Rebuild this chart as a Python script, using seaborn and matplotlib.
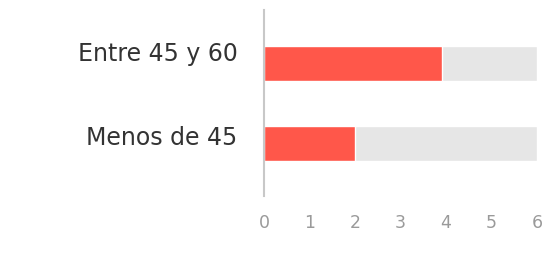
import matplotlib
matplotlib.use("Agg")
import matplotlib.pyplot as plt
import matplotlib.transforms as mtransforms
import seaborn as sns
import pandas as pd

categories = ["Entre 45 y 60", "Menos de 45"]
values = [3.92, 2.0]
max_values = [6, 6]
x_ticks = [0, 1, 2, 3, 4, 5, 6]

sns.set_theme(style="white")
plt.rcParams['font.family'] = ['DejaVu Sans']

df = pd.DataFrame({"cat": categories, "val": values, "max": max_values})

fig = plt.figure(figsize=(5.55, 2.64), dpi=100)
ax = fig.add_axes([264/555, 1-196/264, (537-264)/555, 186/264])

sns.barplot(data=df, y="cat", x="max", color="#E6E6E6", width=0.44, ax=ax, saturation=1)
sns.barplot(data=df, y="cat", x="val", color="#FF574A", width=0.44, ax=ax, saturation=1)

ax.set_xlim(0, 6)
ax.set_ylim(1.66, -0.67)
ax.set_xticks(x_ticks)
ax.set_xlabel("")
ax.set_ylabel("")
for s in ["top", "right", "bottom"]:
    ax.spines[s].set_visible(False)
ax.spines["left"].set_color("#C8C8C8")
ax.spines["left"].set_linewidth(1.5)
ax.tick_params(axis="x", length=0, pad=13, labelsize=12.5, labelcolor="#9A9A9A")
ax.tick_params(axis="y", length=0, pad=19, labelsize=17, labelcolor="#333333")

# labels sit a bit above bar centres in the reference
for lab, dy in zip(ax.get_yticklabels(), [12, 8]):
    lab.set_transform(lab.get_transform() +
                      mtransforms.ScaledTranslation(0, dy / 100, fig.dpi_scale_trans))

fig.savefig("out.png", dpi=100)
